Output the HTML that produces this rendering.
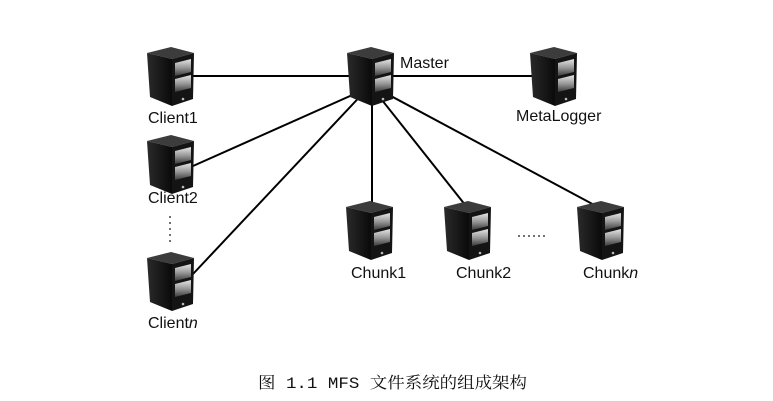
<!DOCTYPE html>
<html><head><meta charset="utf-8"><style>
html,body{margin:0;padding:0;background:#fff;}
svg{display:block;}
text{font-family:"Liberation Sans",Arial,sans-serif;font-size:16px;fill:#111;}
</style></head><body>
<svg width="773" height="401" viewBox="0 0 773 401" xmlns="http://www.w3.org/2000/svg">
<defs>
<linearGradient id="bay" x1="0" y1="0" x2="0" y2="1">
<stop offset="0" stop-color="#e6e6e6"/><stop offset="0.5" stop-color="#999"/><stop offset="1" stop-color="#3a3a3a"/>
</linearGradient>
<linearGradient id="side" x1="0" y1="0" x2="1" y2="0">
<stop offset="0" stop-color="#2a2a2a"/><stop offset="1" stop-color="#0a0a0a"/>
</linearGradient>
<g id="srv">
<path d="M0,6 L24,0 L47,6 L25,12 Z" fill="#3c3c3c"/>
<path d="M0,6 L25,12 L25,59 L3,50 Z" fill="url(#side)"/>
<path d="M25,12 L47,6 L46,52 L25,59 Z" fill="#141414"/>
<path d="M28,16 L44,12 L44,25 L28,29 Z" fill="url(#bay)"/>
<path d="M28,32 L44,28 L44,41 L28,45 Z" fill="url(#bay)"/>
<circle cx="36" cy="52" r="1.3" fill="#bbb"/>
</g>
</defs>
<g stroke="#000" stroke-width="2" fill="none">
<line x1="192" y1="76" x2="350" y2="76"/>
<line x1="392" y1="76" x2="532" y2="76"/>
<line x1="368" y1="88" x2="193" y2="166"/>
<line x1="368" y1="88" x2="193" y2="274"/>
<line x1="372" y1="92" x2="372" y2="206"/>
<line x1="374" y1="90" x2="466" y2="206"/>
<line x1="376" y1="88" x2="598" y2="207"/>
</g>
<use href="#srv" x="147" y="47"/>
<use href="#srv" x="347" y="47"/>
<use href="#srv" x="530" y="47"/>
<use href="#srv" x="147" y="135"/>
<use href="#srv" x="147" y="252"/>
<use href="#srv" x="346" y="201"/>
<use href="#srv" x="444" y="201"/>
<use href="#srv" x="577" y="201"/>
<g fill="#444">
<circle cx="170" cy="217" r="1"/><circle cx="170" cy="223" r="1"/><circle cx="170" cy="229" r="1"/><circle cx="170" cy="235" r="1"/><circle cx="170" cy="241" r="1"/>
<circle cx="519" cy="236" r="1"/><circle cx="524" cy="236" r="1"/><circle cx="529" cy="236" r="1"/><circle cx="534" cy="236" r="1"/><circle cx="539" cy="236" r="1"/><circle cx="544" cy="236" r="1"/>
</g>
<text x="400" y="68">Master</text>
<text x="148" y="123">Client1</text>
<text x="516" y="121">MetaLogger</text>
<text x="148" y="203">Client2</text>
<text x="148" y="328">Client<tspan font-style="italic">n</tspan></text>
<text x="351" y="278">Chunk1</text>
<text x="456" y="278">Chunk2</text>
<text x="583" y="278">Chunk<tspan font-style="italic">n</tspan></text>
<text x="258" y="388" textLength="269" lengthAdjust="spacingAndGlyphs" style="font-family:'Liberation Mono','Noto Serif CJK SC',serif;font-size:16px;">图 1.1  MFS 文件系统的组成架构</text>
</svg>
</body></html>
